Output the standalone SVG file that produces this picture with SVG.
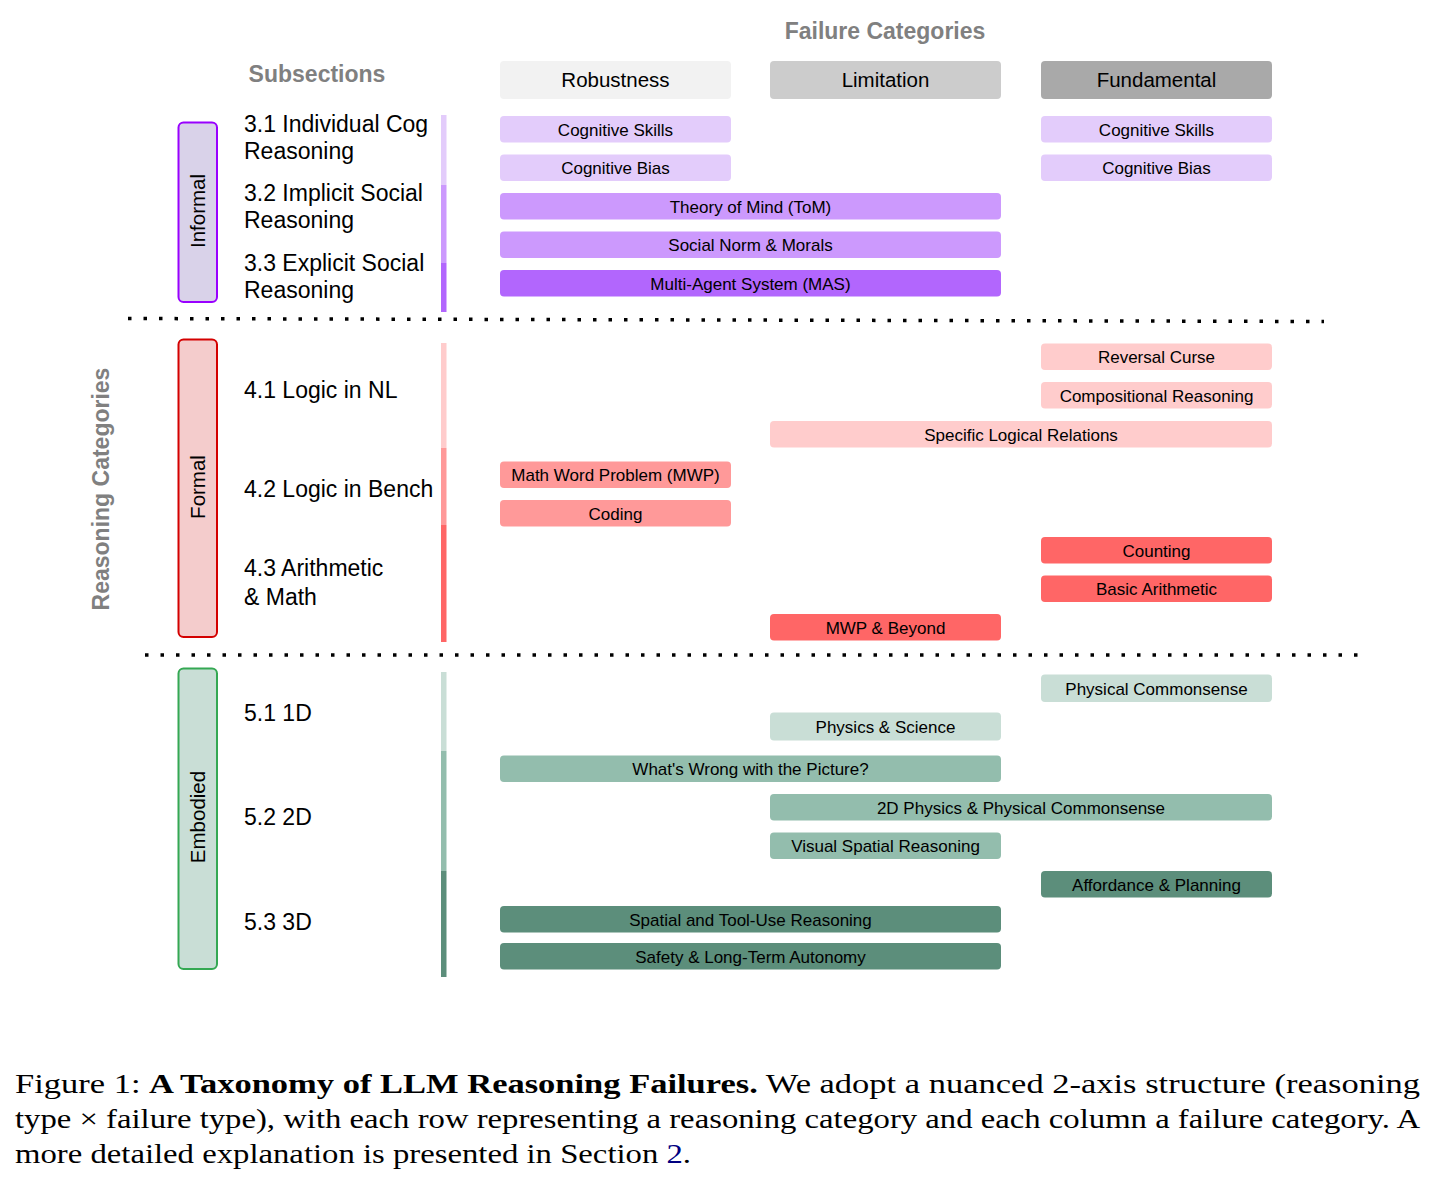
<svg xmlns="http://www.w3.org/2000/svg" width="1436" height="1187" viewBox="0 0 1436 1187">
<style>
  .sans { font-family: "Liberation Sans", Arial, sans-serif; }
  .title { font-family: "Liberation Sans", Arial, sans-serif; font-weight: bold; font-size: 23px; fill: #808080; }
  .hdr { font-family: "Liberation Sans", Arial, sans-serif; font-size: 20.5px; fill: #000; text-anchor: middle; }
  .item { font-family: "Liberation Sans", Arial, sans-serif; font-size: 17px; fill: #000; text-anchor: middle; }
  .sub { font-family: "Liberation Sans", Arial, sans-serif; font-size: 23px; fill: #000; }
  .cat { font-family: "Liberation Sans", Arial, sans-serif; font-size: 20.5px; fill: #000; text-anchor: middle; }
  .cap { font-family: "Liberation Serif", "Times New Roman", serif; font-size: 28px; fill: #000; }
  .i1 { fill: #e3ccfb; } .i2 { fill: #cc99fd; } .i3 { fill: #b266fd; }
  .f1 { fill: #ffcccc; } .f2 { fill: #ff9999; } .f3 { fill: #ff6666; }
  .e1 { fill: #c9ded6; } .e2 { fill: #93bdad; } .e3 { fill: #5c8e7b; }
  .sep { stroke: #000; stroke-width: 3.5; stroke-dasharray: 3.5 12; fill: none; }
</style>
<rect width="1436" height="1187" fill="#ffffff"/>

<!-- Titles -->
<g id="title-failure"><text class="title" x="885" y="39" text-anchor="middle">Failure Categories</text></g>
<g id="title-subsections"><text class="title" x="317" y="82" text-anchor="middle">Subsections</text></g>
<g id="title-reasoning"><text class="title" x="0" y="0" text-anchor="middle" transform="translate(109,489) rotate(-90)">Reasoning Categories</text></g>

<!-- Column headers -->
<g id="hdr-robustness"><rect x="500" y="61" width="231" height="38" rx="4" fill="#f2f2f2"/><text class="hdr" x="615.5" y="87">Robustness</text></g>
<g id="hdr-limitation"><rect x="770" y="61" width="231" height="38" rx="4" fill="#cccccc"/><text class="hdr" x="885.5" y="87">Limitation</text></g>
<g id="hdr-fundamental"><rect x="1041" y="61" width="231" height="38" rx="4" fill="#a9a9a9"/><text class="hdr" x="1156.5" y="87">Fundamental</text></g>

<!-- Category boxes -->
<g id="cat-informal"><rect x="178.5" y="122.5" width="38.5" height="179.5" rx="5" fill="#d9d2e9" stroke="#9900ff" stroke-width="2"/><text class="cat" x="0" y="0" transform="translate(205,211) rotate(-90)">Informal</text></g>
<g id="cat-formal"><rect x="178.5" y="339.5" width="38.5" height="297.5" rx="5" fill="#f4cccc" stroke="#d40000" stroke-width="2"/><text class="cat" x="0" y="0" transform="translate(205,487) rotate(-90)">Formal</text></g>
<g id="cat-embodied"><rect x="178.5" y="668.5" width="38.5" height="300.5" rx="5" fill="#c9ded6" stroke="#34a853" stroke-width="2"/><text class="cat" x="0" y="0" transform="translate(205,817) rotate(-90)">Embodied</text></g>

<!-- Subsection labels -->
<g id="sub-3-1"><text class="sub" x="244" y="132">3.1 Individual Cog</text><text class="sub" x="244" y="159">Reasoning</text></g>
<g id="sub-3-2"><text class="sub" x="244" y="201">3.2 Implicit Social</text><text class="sub" x="244" y="228">Reasoning</text></g>
<g id="sub-3-3"><text class="sub" x="244" y="271">3.3 Explicit Social</text><text class="sub" x="244" y="297.5">Reasoning</text></g>
<g id="sub-4-1"><text class="sub" x="244" y="398">4.1 Logic in NL</text></g>
<g id="sub-4-2"><text class="sub" x="244" y="497">4.2 Logic in Bench</text></g>
<g id="sub-4-3"><text class="sub" x="244" y="576">4.3 Arithmetic</text><text class="sub" x="244" y="604.5">&amp; Math</text></g>
<g id="sub-5-1"><text class="sub" x="244" y="721">5.1 1D</text></g>
<g id="sub-5-2"><text class="sub" x="244" y="824.5">5.2 2D</text></g>
<g id="sub-5-3"><text class="sub" x="244" y="929.5">5.3 3D</text></g>

<!-- Colour bars -->
<g id="bar-informal">
  <rect class="i1" x="441" y="115" width="5.5" height="70"/>
  <rect class="i2" x="441" y="185" width="5.5" height="78"/>
  <rect class="i3" x="441" y="263" width="5.5" height="49"/>
</g>
<g id="bar-formal">
  <rect class="f1" x="441" y="343" width="5.5" height="105"/>
  <rect class="f2" x="441" y="448" width="5.5" height="77"/>
  <rect class="f3" x="441" y="525" width="5.5" height="117"/>
</g>
<g id="bar-embodied">
  <rect class="e1" x="441" y="672" width="5.5" height="79"/>
  <rect class="e2" x="441" y="751" width="5.5" height="120"/>
  <rect class="e3" x="441" y="871" width="5.5" height="106"/>
</g>

<!-- Informal items -->
<g id="inf-cogskills-rob"><rect class="i1" x="500" y="116" width="231" height="26.5" rx="4"/><text class="item" x="615.5" y="135.5">Cognitive Skills</text></g>
<g id="inf-cogskills-fund"><rect class="i1" x="1041" y="116" width="231" height="26.5" rx="4"/><text class="item" x="1156.5" y="135.5">Cognitive Skills</text></g>
<g id="inf-cogbias-rob"><rect class="i1" x="500" y="154.5" width="231" height="26.5" rx="4"/><text class="item" x="615.5" y="174">Cognitive Bias</text></g>
<g id="inf-cogbias-fund"><rect class="i1" x="1041" y="154.5" width="231" height="26.5" rx="4"/><text class="item" x="1156.5" y="174">Cognitive Bias</text></g>
<g id="inf-tom"><rect class="i2" x="500" y="193" width="501" height="26.5" rx="4"/><text class="item" x="750.5" y="212.5">Theory of Mind (ToM)</text></g>
<g id="inf-social"><rect class="i2" x="500" y="231.5" width="501" height="26.5" rx="4"/><text class="item" x="750.5" y="251">Social Norm &amp; Morals</text></g>
<g id="inf-mas"><rect class="i3" x="500" y="270" width="501" height="26.5" rx="4"/><text class="item" x="750.5" y="289.5">Multi-Agent System (MAS)</text></g>

<!-- Formal items -->
<g id="for-reversal"><rect class="f1" x="1041" y="343.5" width="231" height="26.5" rx="4"/><text class="item" x="1156.5" y="363">Reversal Curse</text></g>
<g id="for-compositional"><rect class="f1" x="1041" y="382" width="231" height="26.5" rx="4"/><text class="item" x="1156.5" y="401.5">Compositional Reasoning</text></g>
<g id="for-specific"><rect class="f1" x="770" y="421" width="502" height="26.5" rx="4"/><text class="item" x="1021" y="440.5">Specific Logical Relations</text></g>
<g id="for-mwp"><rect class="f2" x="500" y="461.5" width="231" height="26.5" rx="4"/><text class="item" x="615.5" y="481">Math Word Problem (MWP)</text></g>
<g id="for-coding"><rect class="f2" x="500" y="500" width="231" height="26.5" rx="4"/><text class="item" x="615.5" y="519.5">Coding</text></g>
<g id="for-counting"><rect class="f3" x="1041" y="537" width="231" height="26.5" rx="4"/><text class="item" x="1156.5" y="556.5">Counting</text></g>
<g id="for-arith"><rect class="f3" x="1041" y="575.5" width="231" height="26.5" rx="4"/><text class="item" x="1156.5" y="595">Basic Arithmetic</text></g>
<g id="for-mwpbeyond"><rect class="f3" x="770" y="614" width="231" height="26.5" rx="4"/><text class="item" x="885.5" y="633.5">MWP &amp; Beyond</text></g>

<!-- Embodied items -->
<g id="emb-physcommon"><rect class="e1" x="1041" y="674.5" width="231" height="27.5" rx="4"/><text class="item" x="1156.5" y="694.5">Physical Commonsense</text></g>
<g id="emb-physsci"><rect class="e1" x="770" y="712.5" width="231" height="28" rx="4"/><text class="item" x="885.5" y="733">Physics &amp; Science</text></g>
<g id="emb-wrong"><rect class="e2" x="500" y="755.5" width="501" height="26.5" rx="4"/><text class="item" x="750.5" y="775">What's Wrong with the Picture?</text></g>
<g id="emb-2d"><rect class="e2" x="770" y="794" width="502" height="26.5" rx="4"/><text class="item" x="1021" y="813.5">2D Physics &amp; Physical Commonsense</text></g>
<g id="emb-visual"><rect class="e2" x="770" y="832.5" width="231" height="26.5" rx="4"/><text class="item" x="885.5" y="852">Visual Spatial Reasoning</text></g>
<g id="emb-affordance"><rect class="e3" x="1041" y="871" width="231" height="26.5" rx="4"/><text class="item" x="1156.5" y="890.5">Affordance &amp; Planning</text></g>
<g id="emb-spatialtool"><rect class="e3" x="500" y="906" width="501" height="26.5" rx="4"/><text class="item" x="750.5" y="925.5">Spatial and Tool-Use Reasoning</text></g>
<g id="emb-safety"><rect class="e3" x="500" y="943" width="501" height="26.5" rx="4"/><text class="item" x="750.5" y="962.5">Safety &amp; Long-Term Autonomy</text></g>

<!-- Connectors / separators -->
<g id="connectors">
  <line class="sep" x1="128" y1="318.5" x2="1324" y2="321.5"/>
  <line class="sep" x1="145" y1="655" x2="1358" y2="655"/>
</g>

<!-- Caption -->
<g id="caption">
  <text class="cap" x="15" y="1093" textLength="1405" lengthAdjust="spacingAndGlyphs">Figure 1: <tspan font-weight="bold">A Taxonomy of LLM Reasoning Failures.</tspan> We adopt a nuanced 2-axis structure (reasoning</text>
  <text class="cap" x="15" y="1128" textLength="1405" lengthAdjust="spacingAndGlyphs">type × failure type), with each row representing a reasoning category and each column a failure category.  A</text>
  <text class="cap" x="15" y="1163" textLength="676" lengthAdjust="spacingAndGlyphs">more detailed explanation is presented in Section <tspan fill="#000080">2</tspan>.</text>
</g>
</svg>
